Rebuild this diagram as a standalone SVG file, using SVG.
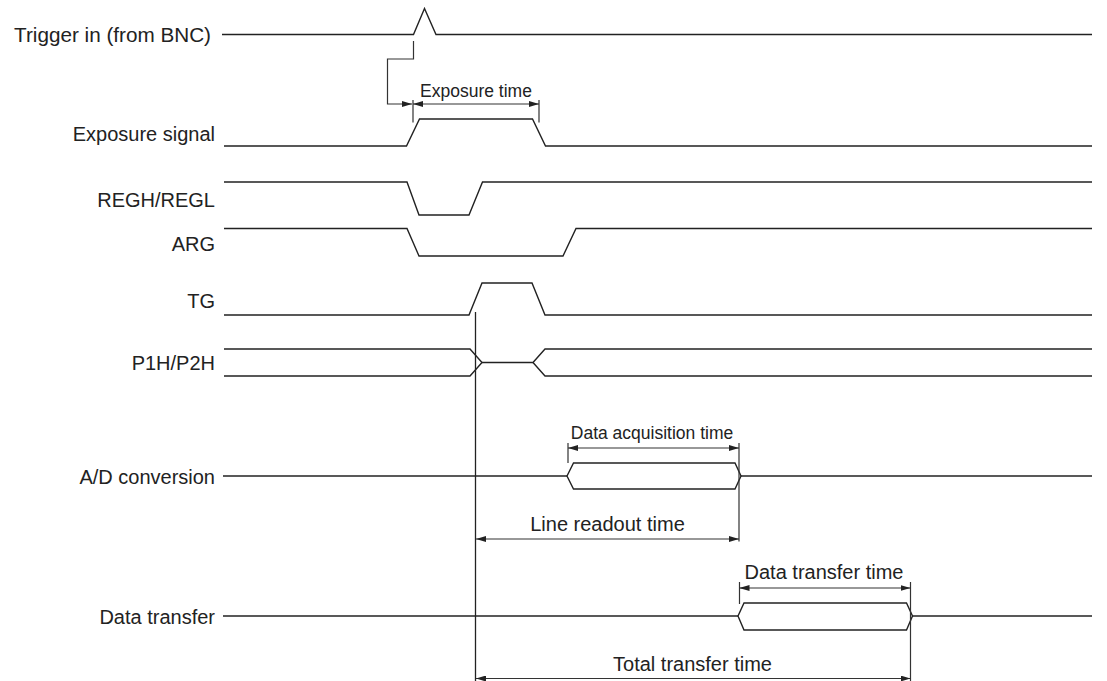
<svg xmlns="http://www.w3.org/2000/svg" width="1107" height="681" viewBox="0 0 1107 681">
<style>
.lbl{font-family:"Liberation Sans",Arial,sans-serif;font-size:20px;fill:#222;text-anchor:end}
.dim{font-family:"Liberation Sans",Arial,sans-serif;font-size:20px;fill:#222;text-anchor:middle}
.dims{font-family:"Liberation Sans",Arial,sans-serif;font-size:17.5px;fill:#222;text-anchor:middle}
.w{fill:none;stroke:#222;stroke-width:1.4;stroke-linejoin:miter}
.d{fill:none;stroke:#333;stroke-width:1.2}
.a{fill:none;stroke:#333;stroke-width:1.2;marker-start:url(#ah);marker-end:url(#ah)}
.a1{fill:none;stroke:#333;stroke-width:1.2;marker-end:url(#ah)}
</style>
<defs>
<marker id="ah" viewBox="0 0 10 6" refX="10" refY="3" markerWidth="10" markerHeight="6" markerUnits="userSpaceOnUse" orient="auto-start-reverse">
<path d="M0,0 L10,3 L0,6 z" fill="#222"/>
</marker>
</defs>
<rect width="1107" height="681" fill="#fff"/>

<g id="sig-trigger">
<text class="lbl" x="211" y="41.5" style="font-size:20.7px">Trigger in (from BNC)</text>
<path class="w" d="M222,34.5 H413.5 L424.5,8.5 L436,34.5 H1092"/>
</g>
<g id="sig-exposure">
<text class="lbl" x="215" y="141">Exposure signal</text>
<path class="w" d="M224,146 H406.5 L419.5,119 H532.5 L545.5,146 H1092"/>
</g>
<g id="sig-regh">
<text class="lbl" x="215" y="207">REGH/REGL</text>
<path class="w" d="M224,182 H407 L419,215 H469 L482.5,182 H1092"/>
</g>
<g id="sig-arg">
<text class="lbl" x="215" y="251">ARG</text>
<path class="w" d="M224,228.5 H407 L419,256 H563 L576,228.5 H1092"/>
</g>
<g id="sig-tg">
<text class="lbl" x="215" y="307.5">TG</text>
<path class="w" d="M224,315 H469 L482,283 H532 L545,315 H1092"/>
</g>
<g id="sig-p1h">
<text class="lbl" x="215" y="369.5">P1H/P2H</text>
<path class="w" d="M224,349 H470 L482,362.5 L470,376 H224"/>
<path class="w" d="M482,362.5 H533 L545,349 H1092"/>
<path class="w" d="M533,362.5 L545,376 H1092"/>
</g>
<g id="sig-ad">
<text class="lbl" x="215" y="484">A/D conversion</text>
<path class="w" d="M223,476 H567"/>
<path class="w" d="M567,476 L573.5,463 H735 L741,476 L735,489 H573.5 Z"/>
<path class="w" d="M741,476 H1092"/>
</g>
<g id="sig-dt">
<text class="lbl" x="215" y="623.5">Data transfer</text>
<path class="w" d="M223,616 H738"/>
<path class="w" d="M738,616 L744,603 H906.5 L912.5,616 L906.5,630 H744 Z"/>
<path class="w" d="M912.5,616 H1092"/>
</g>

<g id="connectors">
<path class="a1" d="M413.5,41 V59 H387.5 V104 H412"/>
<path class="d" d="M413,100 V122.5 M539,100 V122.5"/>
<path class="a" d="M413,104 H539"/>
<text class="dims" x="476" y="97">Exposure time</text>

<path class="w" d="M475.5,312 V681" style="stroke-width:1.3"/>

<path class="d" d="M568,443 V463 M739,443 V541.5"/>
<path class="a" d="M568,448 H739"/>
<text class="dims" x="652" y="439">Data acquisition time</text>

<path class="a" d="M476,539 H739"/>
<text class="dim" x="607.5" y="531">Line readout time</text>

<path class="d" d="M739.5,582 V604 M910.5,582 V681"/>
<path class="a" d="M739.5,588 H910.5"/>
<text class="dim" x="824" y="578.5">Data transfer time</text>

<path class="a" d="M476,678.5 H910.5"/>
<text class="dim" x="692.5" y="671">Total transfer time</text>
</g>
</svg>
